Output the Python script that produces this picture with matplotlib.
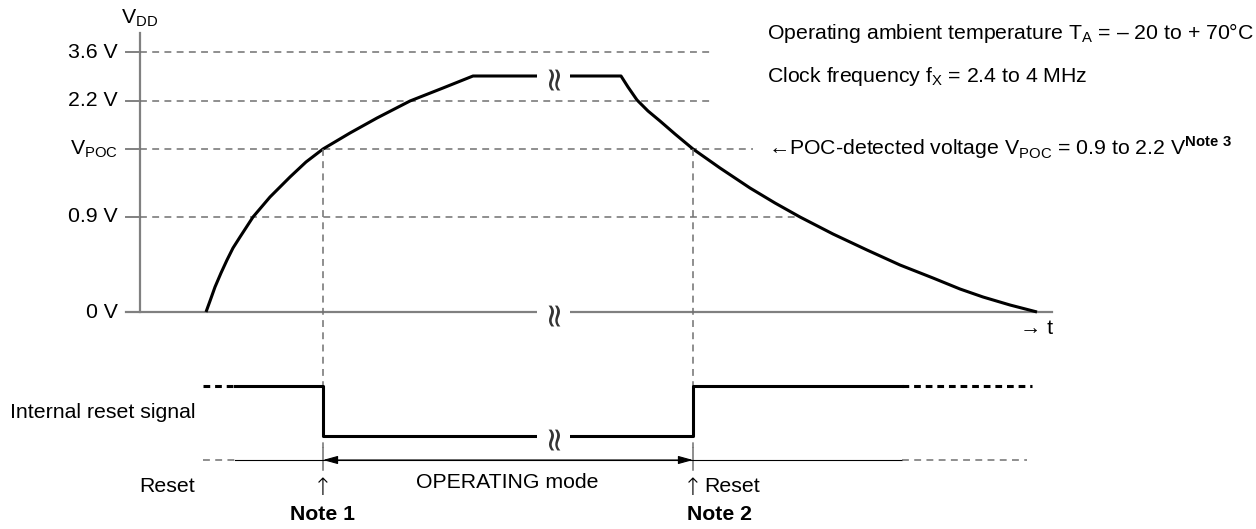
import matplotlib
matplotlib.use('Agg')
import matplotlib.pyplot as plt

plt.rcParams['font.family'] = ['Liberation Sans', 'DejaVu Sans']
plt.rcParams['mathtext.fontset'] = 'custom'
plt.rcParams['mathtext.rm'] = 'Liberation Sans'
plt.rcParams['mathtext.bf'] = 'Liberation Sans:bold'

# voltage levels (schematic, not to scale)
level_labels = ['0 V', '0.9 V', r'V$_{\mathrm{POC}}$', '2.2 V', '3.6 V']
level_vals = [0.0, 0.95, 1.63, 2.11, 2.60]
level_dash_end = [None, 6.57, 6.13, 5.70, 5.70]

# VDD rising edge, plateau and falling edge (time in arbitrary units)
rise_t = [0.66, 0.70, 0.75, 0.81, 0.87, 0.93, 1.00, 1.13, 1.30, 1.50, 1.66, 1.83,
          2.10, 2.37, 2.70, 3.03, 3.33]
rise_v = [0.00, 0.11, 0.25, 0.39, 0.52, 0.64, 0.75, 0.95, 1.15, 1.35, 1.50, 1.63,
          1.79, 1.94, 2.11, 2.24, 2.36]
fall_t = [4.81, 4.88, 4.97, 5.08, 5.20, 5.35, 5.53, 5.80, 6.10, 6.35, 6.60, 6.93,
          7.27, 7.60, 7.93, 8.20, 8.43, 8.70, 8.97]
fall_v = [2.36, 2.25, 2.12, 2.01, 1.91, 1.78, 1.63, 1.44, 1.24, 1.09, 0.95, 0.78,
          0.62, 0.47, 0.34, 0.23, 0.15, 0.07, 0.00]

# POC detection points
t_detect = [1.83, 5.53]

# internal reset signal
sig_hi, sig_lo, reset_row = -0.74, -1.24, -1.48
sig_t = [0.95, 1.83, 1.83, 5.53, 5.53, 7.62]
sig_v = [sig_hi, sig_hi, sig_lo, sig_lo, sig_hi, sig_hi]
sig_dash_left = [0.63, 0.95]
sig_dash_right = [7.62, 8.92]
reset_solid = [0.95, 7.62]
reset_dash_right = [7.62, 8.87]

break_t = 4.13

GREY = '#707070'
DASH = dict(color=GREY, lw=1.1, ls=(0, (4.5, 3.5)))
FS = 15.3

fig = plt.figure(figsize=(12.56, 5.29), dpi=100)
ax = fig.add_axes([0, 0, 1, 1])
ax.set_xlim(-1.40, 11.16)
ax.set_ylim(-2.17, 3.12)
ax.axis('off')

# axes of the VDD plot
ax.plot([0, 0], [0, 2.79], color='#808080', lw=1.6)
ax.plot([-0.14, 9.12], [0, 0], color='#808080', lw=1.6)
for lab, v, end in zip(level_labels, level_vals, level_dash_end):
    ax.plot([-0.14, 0], [v, v], color='#808080', lw=1.4)
    if end is not None:
        ax.plot([0, end], [v, v], **DASH)
    ax.text(-0.22, v, lab, ha='right', va='center', fontsize=FS)
ax.text(0, 2.94, r'V$_{\mathrm{DD}}$', ha='center', va='center', fontsize=FS)
ax.text(8.80, -0.16, '\u2192 t', ha='left', va='center', fontsize=FS)

# VDD curve
ax.plot(rise_t + fall_t, rise_v + fall_v, color='black', lw=2.2,
        solid_joinstyle='round', solid_capstyle='butt')

# vertical markers
for t in t_detect:
    ax.plot([t, t], [1.63, -1.36], **DASH)
    ax.plot([t, t], [-1.36, -1.58], color=GREY, lw=1.1)

# internal reset signal
ax.plot(sig_t, sig_v, color='black', lw=2.2)
ax.plot(sig_dash_left, [sig_hi, sig_hi], color='black', lw=2.2, ls=(0, (2.2, 1.6)))
ax.plot(sig_dash_right, [sig_hi, sig_hi], color='black', lw=2.2, ls=(0, (2.2, 1.6)))

# reset / operating row
ax.plot(reset_solid, [reset_row, reset_row], color='black', lw=0.8)
ax.plot(sig_dash_left, [reset_row, reset_row], **DASH)
ax.plot(reset_dash_right, [reset_row, reset_row], **DASH)
ax.annotate('', xy=(t_detect[0], reset_row), xytext=(t_detect[1], reset_row),
            arrowprops=dict(arrowstyle='<|-|>,head_length=0.9,head_width=0.25',
                            color='black', lw=0.8, shrinkA=0, shrinkB=0))

# break marks
for v in [2.36, 0, sig_lo]:
    ax.text(break_t, v, '\u2248', rotation=90, ha='center', va='center', fontsize=24,
            family=['DejaVu Sans'], color='#333333',
            bbox=dict(boxstyle='square,pad=0.0', fc='white', ec='none'))

# labels
ax.text(-1.30, -1.01, 'Internal reset signal', ha='left', va='center', fontsize=FS)
ax.text(0.55, -1.75, 'Reset', ha='right', va='center', fontsize=FS)
for t in t_detect:
    ax.text(t, -1.76, '\u2191', ha='center', va='center', fontsize=17,
            family=['DejaVu Sans'], weight='ultralight')
ax.text(t_detect[0], -2.02, 'Note 1', ha='center', va='center', fontsize=FS, weight='bold')
ax.text(3.67, -1.70, 'OPERATING mode', ha='center', va='center', fontsize=FS)
ax.text(5.64, -1.75, 'Reset', ha='left', va='center', fontsize=FS)
ax.text(5.47, -2.02, 'Note 2', ha='left', va='center', fontsize=FS, weight='bold')

ax.text(6.27, 2.79, 'Operating ambient temperature T$_{\\mathrm{A}}$ = \u2013 20 to + 70\u00b0C',
        ha='left', va='center', fontsize=FS)
ax.text(6.27, 2.36, r'Clock frequency f$_{\mathrm{X}}$ = 2.4 to 4 MHz',
        ha='left', va='center', fontsize=FS)
ax.text(6.28, 1.64, '\u2190POC-detected voltage V$_{\\mathrm{POC}}$ = 0.9 to 2.2 V$^{\\mathbf{Note\\ 3}}$',
        ha='left', va='center', fontsize=FS)

fig.savefig('out.png', dpi=100)
